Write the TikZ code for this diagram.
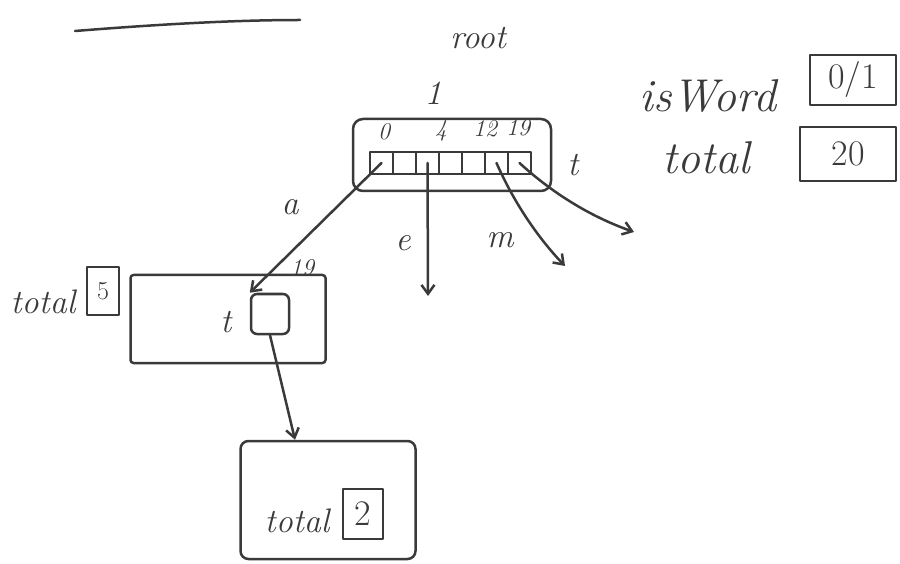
\documentclass[tikz,border=0pt]{standalone}
\usetikzlibrary{arrows.meta}
\definecolor{pen}{HTML}{3A3A3A}
\begin{document}
\begin{tikzpicture}[x=1pt,y=-1pt,
  every node/.style={text=pen,font=\itshape},
  ink/.style={draw=pen,line width=2.5pt,line cap=round,line join=round},
  arr/.style={ink,-{Straight Barb[length=9pt,width=13pt]}},
  cell/.style={ink,minimum width=23pt,minimum height=22pt,inner sep=0pt},
  valbox/.style={ink,inner sep=0pt,font=\fontsize{36}{40}\selectfont},
  big/.style={font=\itshape\fontsize{46}{50}\selectfont},
  mid/.style={font=\itshape\fontsize{34}{38}\selectfont},
  sml/.style={font=\itshape\fontsize{24}{28}\selectfont}]
\useasboundingbox (0,0) rectangle (900,564);
% top-left stroke
\coordinate (s1) at (75,31);
\coordinate (s2) at (300,20);
\draw[ink] (s1) .. controls (150,25) and (230,20) .. (s2);
% root node
\node[mid] (rootlbl) at (478,38) {root};
\node[mid] (one) at (433,93) {1};
\node[ink,rounded corners=10pt,minimum width=198pt,minimum height=72pt] (root) at (452,155) {};
\foreach \i/\x in {1/381.5,2/404.5,3/427.5,4/450.5,5/473.5,6/496.5,7/519.5}
  \node[cell] (c\i) at (\x,163) {};
\node[sml] (i0) at (384,132) {0};
\node[sml] (i4) at (441,131) {4};
\node[sml] (i12) at (485,129) {12};
\node[sml] (i19) at (518,128) {19};
\node[mid] (tl) at (573,165) {t};
% fields on the right
\node[big] (isw) at (708,96) {isWord};
\node[valbox,minimum width=86pt,minimum height=50pt] (iswbox) at (853,80) {0/1};
\node[big] (tot) at (706,158) {total};
\node[valbox,minimum width=96pt,minimum height=54pt] (totbox) at (848,154) {20};
% child node
\node[ink,minimum width=195pt,minimum height=88pt,rounded corners=3pt] (child) at (228,319) {};
\node[mid] (ctot) at (43,302) {total};
\node[valbox,minimum width=32pt,minimum height=48pt,font=\fontsize{26}{30}\selectfont] (cbox) at (103,291) {5};
\node[mid] (ct) at (226,322) {t};
\node[ink,minimum width=38pt,minimum height=40pt,inner sep=0pt,rounded corners=6pt] (tbox) at (270,314) {};
\node[sml] (c19) at (302,268) {19};
% grandchild
\node[ink,minimum width=175pt,minimum height=118pt,rounded corners=8pt] (gchild) at (328,500) {};
\node[mid] (gtot) at (297,521) {total};
\node[valbox,minimum width=40pt,minimum height=50pt] (gbox) at (363,514) {2};
% edges from root
\coordinate (eEnd) at (428,296);
\coordinate (mEnd) at (565,266);
\coordinate (tEnd) at (634,232);
\draw[arr] (c1.center) -- (tbox.north west);
\draw[arr] (c3.center) -- (eEnd);
\draw[arr] (c6.center) .. controls (515,205) and (540,240) .. (mEnd);
\draw[arr] (c7.center) .. controls (560,200) and (600,220) .. (tEnd);
\node[mid] (la) at (290,207) {a};
\node[mid] (le) at (403,243) {e};
\node[mid] (lm) at (500,240) {m};
% child to grandchild
\draw[arr] (tbox.south) -- (gchild.north -| 295,0);
\end{tikzpicture}
\end{document}
